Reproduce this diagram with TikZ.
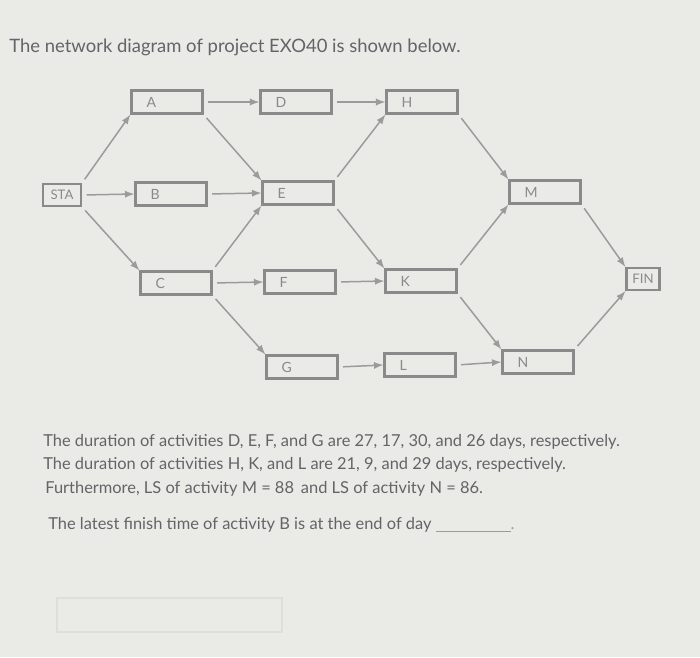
\documentclass[tikz,border=0pt]{standalone}
\usepackage{fontspec}
\setmainfont{Lato}
\usepackage{tikz}
\usetikzlibrary{arrows}
\usetikzlibrary{positioning}
\definecolor{paper}{RGB}{234,234,231}
\definecolor{boxgray}{RGB}{138,138,138}
\definecolor{linegray}{RGB}{155,155,155}
\definecolor{inkgray}{RGB}{100,100,104}
\definecolor{faintgray}{RGB}{222,222,219}
\tikzset{act/.style={draw=boxgray,line width=1.3pt,text=boxgray,font=\fontsize{8}{9}\selectfont,minimum height=0.46cm,text width=0.82cm,inner xsep=0.3cm,align=left}}
\tikzset{ends/.style={draw=boxgray,line width=1.3pt,text=boxgray,font=\fontsize{7.5}{9}\selectfont,minimum height=0.44cm,inner xsep=2pt}}
\tikzset{link/.style={draw=linegray,line width=0.85pt,-latex,shorten <=2.5pt}}
\tikzset{txt/.style={anchor=base west,text=inkgray,inner sep=0pt,font=\fontsize{9.35}{11}\selectfont}}

\begin{document}
\begin{tikzpicture}[x=0.02cm,y=-0.02cm]
\fill[paper] (0,0) rectangle (700,657);
\useasboundingbox (0,0) rectangle (700,657);

\node[txt,font=\fontsize{10.5}{12}\selectfont] (title) at (9,52) {The network diagram of project EXO40 is shown below.};

\node[ends,minimum width=0.76cm] (sta) at (62,195) {STA};
\node[act] (a) at (167,102) {A};
\node[act] (b) at (171,194) {B};
\node[act] (c) at (176,283) {C};
\node[act] (d) at (296,102) {D};
\node[act] (e) at (298,193) {E};
\node[act] (f) at (300,282) {F};
\node[act] (g) at (302,367) {G};
\node[act] (h) at (422,102) {H};
\node[act] (k) at (421,281) {K};
\node[act] (l) at (420,365) {L};
\node[act] (m) at (545,192) {M};
\node[act] (n) at (538,362) {N};
\node[ends,minimum width=0.66cm] (fin) at (643,279) {FIN};

\begin{scope}
\draw[link] (sta.north east) -- (a.south west);
\draw[link] (sta.east) -- (b.west);
\draw[link] (sta.south east) -- (c.north west);
\draw[link] (a.east) -- (d.west);
\draw[link] (a.south east) -- (e.north west);
\draw[link] (b.east) -- (e.west);
\draw[link] (c.north east) -- (e.south west);
\draw[link] (c.east) -- (f.west);
\draw[link] (c.south east) -- (g.north west);
\draw[link] (d.east) -- (h.west);
\draw[link] (e.north east) -- (h.south west);
\draw[link] (e.south east) -- (k.north west);
\draw[link] (f.east) -- (k.west);
\draw[link] (g.east) -- (l.west);
\draw[link] (h.south east) -- (m.north west);
\draw[link] (k.north east) -- (m.south west);
\draw[link] (k.south east) -- (n.north west);
\draw[link] (l.east) -- (n.west);
\draw[link] (m.south east) -- (fin.north west);
\draw[link] (n.north east) -- (fin.south west);
\end{scope}

\node[txt] (p1) at (43,446) {The duration of activities D, E, F, and G are 27, 17, 30, and 26 days, respectively.};
\node[txt] (p2) at (43,469) {The duration of activities H, K, and L are 21, 9, and 29 days, respectively.};
\node[txt] (p3) at (45,493) {Furthermore, LS of activity M = 88\, and LS of activity N = 86.};
\node[txt] (p4) at (48,529) {The latest finish time of activity B is at the end of day \textcolor{linegray}{\rule[-1.5pt]{1.5cm}{0.4pt}.}};

\draw[faintgray,line width=0.8pt] (57,598) rectangle (282,632);

\end{tikzpicture}
\end{document}
